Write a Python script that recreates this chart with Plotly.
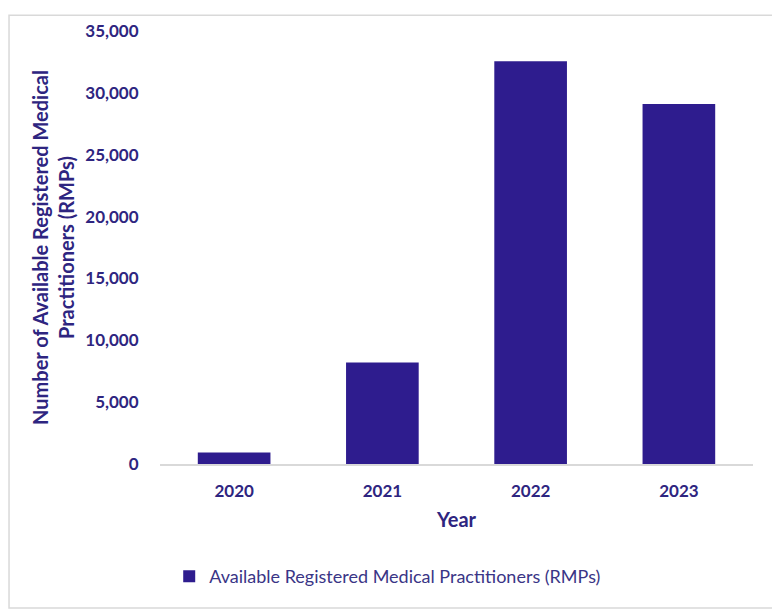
import plotly.graph_objects as go

years = ["2020", "2021", "2022", "2023"]
rmps = [930, 8200, 32550, 29100]
series_name = "Available Registered Medical Practitioners (RMPs)"
y_ticks = [0, 5000, 10000, 15000, 20000, 25000, 30000, 35000]

bar_color = "#2E1C8E"
text_color = "#2E2580"

fig = go.Figure()
fig.add_trace(go.Bar(x=years, y=rmps, name=series_name, marker=dict(color=bar_color, line=dict(width=0))))

fig.update_layout(
    width=772, height=604,
    margin=dict(l=152, r=27, t=17, b=148),
    paper_bgcolor="white", plot_bgcolor="white",
    bargap=0.51,
    font=dict(family="Lato", color=text_color),
    showlegend=True,
    legend=dict(orientation="h", x=0.384, xanchor="center", y=-0.26, yanchor="middle",
                font=dict(size=18, color="#3A3586", family="Lato")),
    xaxis=dict(
        showgrid=False, showline=True, linecolor="#D9D9D9", linewidth=1.5,
        tickfont=dict(size=17, color=text_color, family="Lato", weight="bold"),
        ticks="outside", ticklen=11, tickcolor="rgba(0,0,0,0)",
        title=dict(text="<b>Year</b>", font=dict(size=20, color=text_color), standoff=13),
    ),
    yaxis=dict(
        range=[0, 35000], tickvals=y_ticks, tickformat=",",
        showgrid=False, zeroline=False, showline=False,
        tickfont=dict(size=17, color=text_color, family="Lato", weight="bold"),
        ticks="outside", ticklen=17, tickcolor="rgba(0,0,0,0)",
        title=dict(text="<b>Number of Available Registered Medical<br>Practitioners (RMPs)</b>",
                   font=dict(size=20, color=text_color), standoff=5),
    ),
)

fig.add_shape(type="rect", xref="paper", yref="paper",
              x0=-0.2546, x1=1.0422, y0=-0.3326, y1=1.0364,
              line=dict(color="#D9D9D9", width=1.5), fillcolor="rgba(0,0,0,0)", layer="below")

fig.write_html("out.html")
